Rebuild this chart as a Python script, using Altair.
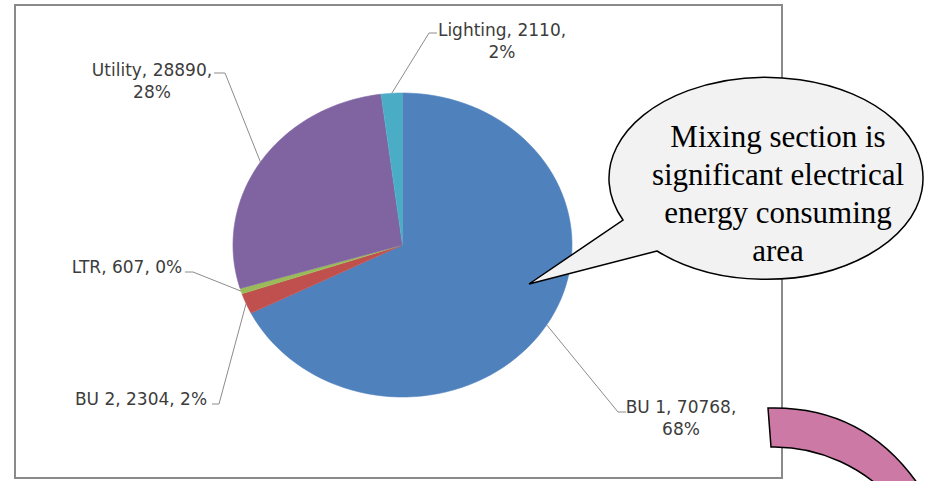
import altair as alt
import pandas as pd

# ---- data ----
categories = ["BU 1", "BU 2", "LTR", "Utility", "Lighting"]
values = [70768, 2304, 607, 28890, 2110]
pct_labels = ["68%", "2%", "0%", "28%", "2%"]
colors = ["#4F81BD", "#C0504D", "#9BBB59", "#8064A2", "#4BACC6"]
callout_lines = ["Mixing section is", "significant electrical", "energy consuming", "area"]

# ---- layout (pixels) ----
W, H = 926, 481
CX, CY, RX, RY = 402.5, 245.0, 169.5, 152.0
N = 90
wrap = [True, False, False, True, True]          # label broken over two lines
lab_x = [681, 141, 127, 152, 502]                # label centre x
lab_y = [413, 405, 273, 76, 36]                  # first baseline
elb_x = [618, 219, 193, 225, 429]
elb_y = [412, 404, 272, 73, 33]
end_x = [626, 212, 185, 214, 437]
end_y = [412, 404, 272, 73, 33]

texts = []
for c, v, p, w in zip(categories, values, pct_labels, wrap):
    texts.append(f"{c}, {v},\n{p}" if w else f"{c}, {v}, {p}")

df = pd.DataFrame({"cat": categories, "value": values, "idx": list(range(len(categories))),
                   "text": texts, "lx": lab_x, "ly": lab_y, "ex": elb_x, "ey": elb_y,
                   "hx": end_x, "hy": end_y})

xs = alt.Scale(domain=[0, W], nice=False, zero=False)
ys = alt.Scale(domain=[0, H], nice=False, zero=False, reverse=True)
cs = alt.Scale(domain=categories, range=colors)

base = alt.Chart(df).transform_joinaggregate(
    total="sum(value)"
).transform_window(
    cum="sum(value)", sort=[alt.SortField("idx")], frame=[None, 0]
)

# chart border
border = alt.Chart(pd.DataFrame({"a": [0]})).mark_rect(
    fillOpacity=0, stroke="#8a8a8a", strokeWidth=2
).encode(x=alt.value(15), x2=alt.value(782), y=alt.value(5), y2=alt.value(478))

# pie slices (elliptical wedges)
pie = base.transform_calculate(
    a0="2*PI*(datum.cum-datum.value)/datum.total",
    a1="2*PI*datum.cum/datum.total",
    steps=f"sequence(0,{N + 2})",
).transform_flatten(["steps"]).transform_calculate(
    t=f"datum.a0+(datum.a1-datum.a0)*(datum.steps-1)/{N}",
).transform_calculate(
    px=f"datum.steps==0 ? {CX} : {CX}+{RX}*sin(datum.t)",
    py=f"datum.steps==0 ? {CY} : {CY}-{RY}*cos(datum.t)",
).mark_line(filled=True, strokeWidth=0.6).encode(
    x=alt.X("px:Q", scale=xs, axis=None),
    y=alt.Y("py:Q", scale=ys, axis=None),
    color=alt.Color("cat:N", scale=cs, legend=None),
    stroke=alt.Stroke("cat:N", scale=cs, legend=None),
    order="steps:Q",
)

lead = base.transform_calculate(
    am="2*PI*(datum.cum-datum.value/2)/datum.total",
).transform_calculate(
    sx=f"{CX}+{RX}*sin(datum.am)",
    sy=f"{CY}-{RY}*cos(datum.am)",
)
leader1 = lead.mark_rule(color="#8c8c8c", strokeWidth=1).encode(
    x=alt.X("sx:Q", scale=xs, axis=None), y=alt.Y("sy:Q", scale=ys, axis=None),
    x2="ex:Q", y2="ey:Q")
leader2 = lead.mark_rule(color="#8c8c8c", strokeWidth=1).encode(
    x=alt.X("ex:Q", scale=xs, axis=None), y=alt.Y("ey:Q", scale=ys, axis=None),
    x2="hx:Q", y2="hy:Q")

labels = alt.Chart(df).mark_text(
    font="DejaVu Sans", fontSize=17, color="#3c3c3c", align="center",
    baseline="alphabetic", lineBreak="\n", lineHeight=22
).encode(x=alt.X("lx:Q", scale=xs, axis=None), y=alt.Y("ly:Q", scale=ys, axis=None),
         text="text:N")

# speech bubble (ellipse + tail) as a custom symbol, 1 unit = 1 px at size 4
bubble_path = "M-111,72 L-239,105 L-145,41 A157,101 0 1,1 -111,72 Z"
bubble = alt.Chart(pd.DataFrame({"a": [0]})).mark_point(
    shape=bubble_path, size=4, filled=True, fill="#F2F2F2", stroke="#000000",
    strokeWidth=1.5, opacity=1
).encode(x=alt.value(768), y=alt.value(179))

callout_df = pd.DataFrame({"line": callout_lines, "row": list(range(len(callout_lines)))})
callout = alt.Chart(callout_df).transform_calculate(
    yy="147 + 38*datum.row"
).mark_text(
    font="Liberation Serif", fontSize=31, color="#000000", align="center", baseline="alphabetic"
).encode(x=alt.value(778), y=alt.Y("yy:Q", scale=ys, axis=None), text="line:N")

arrow_path = "M0,0 C70,-2 130,30 170,110 L140,110 C100,55 45,38 3,39 Z"
arrow = alt.Chart(pd.DataFrame({"a": [0]})).mark_point(
    shape=arrow_path, size=4, filled=True, fill="#CC79A6", stroke="#000000",
    strokeWidth=1.5, opacity=1
).encode(x=alt.value(768), y=alt.value(408))

chart = alt.layer(border, pie, leader1, leader2, labels, bubble, callout, arrow).properties(
    width=W, height=H, autosize=alt.AutoSizeParams(type="none"), padding=0,
    background="white"
).configure_view(stroke=None)

chart.save("out.html", embed_options={"renderer": "svg", "actions": False})
